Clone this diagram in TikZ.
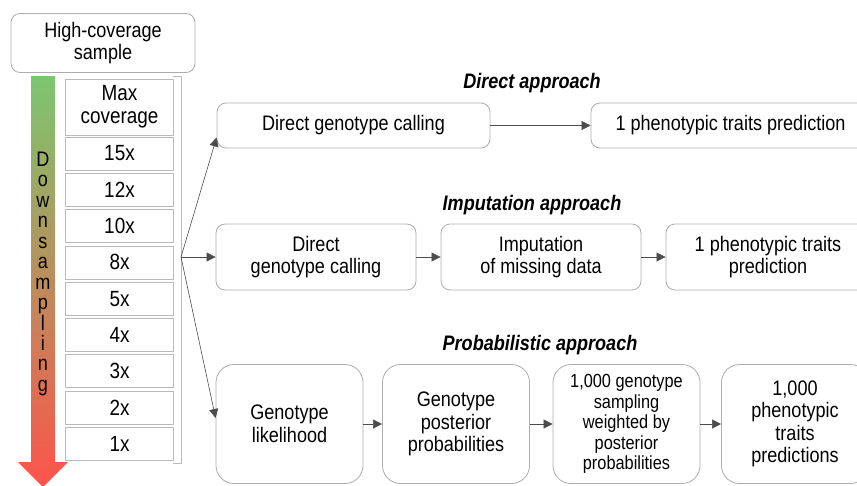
\documentclass[tikz,border=0pt]{standalone}
\usepackage{fontspec}
\setmainfont[FakeStretch=0.86]{Liberation Sans}
\usetikzlibrary{arrows.meta}
\definecolor{dsgreen}{RGB}{124,198,110}
\definecolor{dsred}{RGB}{252,84,74}
\begin{document}
\begin{tikzpicture}[x=1pt,y=-1pt,>={Triangle[length=9pt,width=9pt]},
	font=\fontsize{21}{22}\selectfont, line join=round,
	box/.style={draw=gray!65, line width=0.8pt, rounded corners=9pt, align=center, inner sep=0pt},
	covbox/.style={draw=gray!55, line width=0.8pt, minimum width=108pt, minimum height=33pt, inner sep=0pt, align=center, font=\fontsize{22}{23}\selectfont},
	ttl/.style={font=\fontsize{21}{22}\selectfont\bfseries\itshape},
	link/.style={->, draw=black!60, line width=0.6pt, color=black!70}]
	\useasboundingbox (0,0) rectangle (857,485);
	\clip (0,0) rectangle (857,485);
	% sample and downsampling arrow
	\node[box, minimum width=184pt, minimum height=59pt] (hcs) at (103,43) {High-coverage\\sample};
	\shade[top color=dsgreen, bottom color=dsred] (31,76) -- (55,76) -- (55,462) -- (68,462) -- (43,487) -- (18,462) -- (31,462) -- cycle;
	\foreach \c [count=\i from 0] in {D,o,w,n,s,a,m,p,l,i,n,g}
		\node[font=\fontsize{21}{22}\selectfont, text height=1.6ex, text depth=0.3ex, inner sep=0pt] (ds\i) at (43,163+20.45*\i) {\c};
	% coverages
	\node[covbox, minimum height=56pt, font=\fontsize{22}{23}\selectfont] (cmax) at (119.5,107) {Max\\coverage};
	\foreach \v [count=\i] in {15,12,10,8,5,4,3,2,1}
		\node[covbox] (c\v) at (119.5,117.2+36.3*\i) {\v x};
	\draw[gray!55, line width=0.8pt] (173,76) -- (181,76) -- (181,463) -- (173,463);
	\coordinate (fan) at (181,257);
	% direct approach
	\node[ttl] (tdir) at (532,83) {Direct approach};
	\node[box, minimum width=273pt, minimum height=45pt] (dir1) at (353.5,125.5) {Direct genotype calling};
	\node[box, minimum width=279pt, minimum height=45pt] (dir2) at (730.5,125.5) {1 phenotypic traits prediction};
	\draw[link] (dir1) -- (dir2);
	% imputation approach
	\node[ttl] (timp) at (532,205) {Imputation approach};
	\node[box, minimum width=200pt, minimum height=66pt] (imp1) at (316,257) {Direct\\genotype calling};
	\node[box, minimum width=200pt, minimum height=66pt] (imp2) at (541,257) {Imputation\\of missing data};
	\node[box, minimum width=204pt, minimum height=66pt] (imp3) at (768,257) {1 phenotypic traits\\prediction};
	\draw[link] (imp1) -- (imp2);
	\draw[link] (imp2) -- (imp3);
	% probabilistic approach
	\node[ttl] (tprob) at (540,345) {Probabilistic approach};
	\begin{scope}[box/.append style={rounded corners=18pt, minimum width=147pt, minimum height=119pt, font=\fontsize{21}{22.5}\selectfont}]
		\node[box] (prob1) at (289.5,424) {Genotype\\likelihood};
		\node[box] (prob2) at (456,424) {Genotype\\posterior\\probabilities};
		\node[box, font=\fontsize{19}{20.5}\selectfont] (prob3) at (626.5,424) {1,000 genotype\\sampling\\weighted by\\posterior\\probabilities};
		\node[box] (prob4) at (795,424) {1,000\\phenotypic\\traits\\predictions};
	\end{scope}
	\draw[link] (prob1) -- (prob2);
	\draw[link] (prob2) -- (prob3);
	\draw[link] (prob3) -- (prob4);
	% fan out
	\draw[link] (fan) -- ([yshift=-12pt]dir1.west);
	\draw[link] (fan) -- (imp1.west);
	\draw[link] (fan) -- ([yshift=6pt]prob1.west);
\end{tikzpicture}
\end{document}
